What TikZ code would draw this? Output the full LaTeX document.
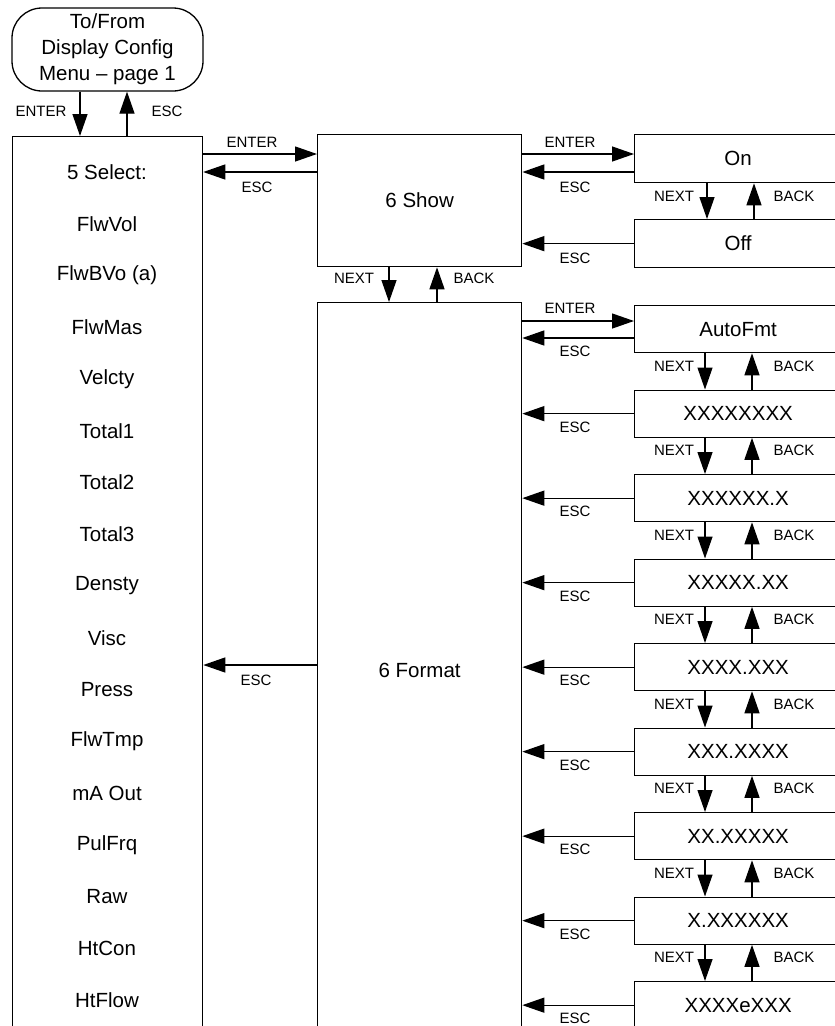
\documentclass[tikz,border=0pt]{standalone}
\usepackage{fontspec}
\setmainfont{Liberation Sans}
\usetikzlibrary{arrows.meta,calc}
\begin{document}
\begin{tikzpicture}[x=1pt,y=-1pt,
  line width=1.3pt,
  arr/.style={-{Triangle[length=22pt,width=15pt]}},
  box/.style={draw, rectangle, inner sep=0pt, anchor=north west, font=\fontsize{20.5}{24}\selectfont},
  lbl/.style={font=\fontsize{15}{16}\selectfont, inner sep=0pt},
  txt/.style={font=\fontsize{20.5}{24}\selectfont, inner sep=0pt},
]
\clip (0,0) rectangle (835,1026);
\useasboundingbox (0,0) rectangle (835,1026);

% terminator
\node[draw, rounded corners=30pt, minimum width=191pt, minimum height=83pt, inner sep=0pt,
  align=center, font=\fontsize{20.5}{26}\selectfont] (menu) at (107.5,49.5)
  {To/From\\Display Config\\Menu – page 1};

% main boxes
\node[box, minimum width=190pt, minimum height=904pt] (sel) at (12,136) {};
\node[box, minimum width=204pt, minimum height=132pt] (show) at (317,134) {6 Show};
\node[box, minimum width=204pt, minimum height=736pt] (fmt) at (317,302) {6 Format};
\node[box, minimum width=207pt, minimum height=48pt] (on) at (634,134) {On};
\node[box, minimum width=207pt, minimum height=48pt] (off) at (634,219) {Off};

% select list
\foreach \t [count=\i from 0] in {5 Select:, FlwVol, FlwBVo (a), FlwMas, Velcty, Total1, Total2, Total3, Densty, Visc, Press, FlwTmp, mA Out, PulFrq, Raw, HtCon, HtFlow}
  \node[txt] (s\i) at (107, {172+\i*51.75}) {\t};

% format option boxes
\foreach \t [count=\i from 0] in {AutoFmt, XXXXXXXX, XXXXXX.X, XXXXX.XX, XXXX.XXX, XXX.XXXX, XX.XXXXX, X.XXXXXX, XXXXeXXX}
  \node[box, minimum width=207pt, minimum height=47pt] (f\i) at (634, {305+\i*84.5}) {\t};

% menu <-> select
\draw[arr] (menu.south -| 80,0) -- (sel.north -| 80,0);
\draw[arr] (sel.north -| 127,0) -- (menu.south -| 127,0);
\node[lbl] at (41,111) {ENTER};
\node[lbl] at (167,111) {ESC};

% select <-> show
\draw[arr] (sel.east |- 0,154) -- (show.west |- 0,154);
\draw[arr] (show.west |- 0,172) -- (sel.east |- 0,172);
\node[lbl] at (252,142) {ENTER};
\node[lbl] at (257,187) {ESC};

% show <-> on/off
\draw[arr] (show.east |- 0,154) -- (on.west |- 0,154);
\draw[arr] (on.west |- 0,172) -- (show.east |- 0,172);
\node[lbl] at (570,142) {ENTER};
\node[lbl] at (575,187) {ESC};
\draw[arr] (off.west) -- (show.east |- off.west);
\node[lbl] at (575,258) {ESC};
\draw[arr] (on.south -| 707,0) -- (off.north -| 707,0);
\draw[arr] (off.north -| 754,0) -- (on.south -| 754,0);
\node[lbl] at (674,196) {NEXT};
\node[lbl] at (794,196) {BACK};

% show <-> format
\draw[arr] (show.south -| 389,0) -- (fmt.north -| 389,0);
\draw[arr] (fmt.north -| 437,0) -- (show.south -| 437,0);
\node[lbl] at (354,278) {NEXT};
\node[lbl] at (474,278) {BACK};

% format -> select
\draw[arr] (fmt.west |- 0,665) -- (sel.east |- 0,665);
\node[lbl] at (256,680) {ESC};

% format <-> AutoFmt
\draw[arr] (fmt.east |- 0,321) -- (f0.west |- 0,321);
\draw[arr] (f0.west |- 0,338) -- (fmt.east |- 0,338);
\node[lbl] at (570,308) {ENTER};
\node[lbl] at (575,351) {ESC};

% other format options
\foreach \i in {1,...,8} {
  \draw[arr] (f\i.west) -- (fmt.east |- f\i.west);
  \node[lbl] at (575, {328.5+\i*84.5+14}) {ESC};
}
\foreach \i [evaluate=\i as \j using int(\i+1)] in {0,...,7} {
  \draw[arr] (f\i.south -| 705,0) -- (f\j.north -| 705,0);
  \draw[arr] (f\j.north -| 752,0) -- (f\i.south -| 752,0);
  \node[lbl] at (674, {366+\i*84.5}) {NEXT};
  \node[lbl] at (794, {366+\i*84.5}) {BACK};
}
\end{tikzpicture}
\end{document}
